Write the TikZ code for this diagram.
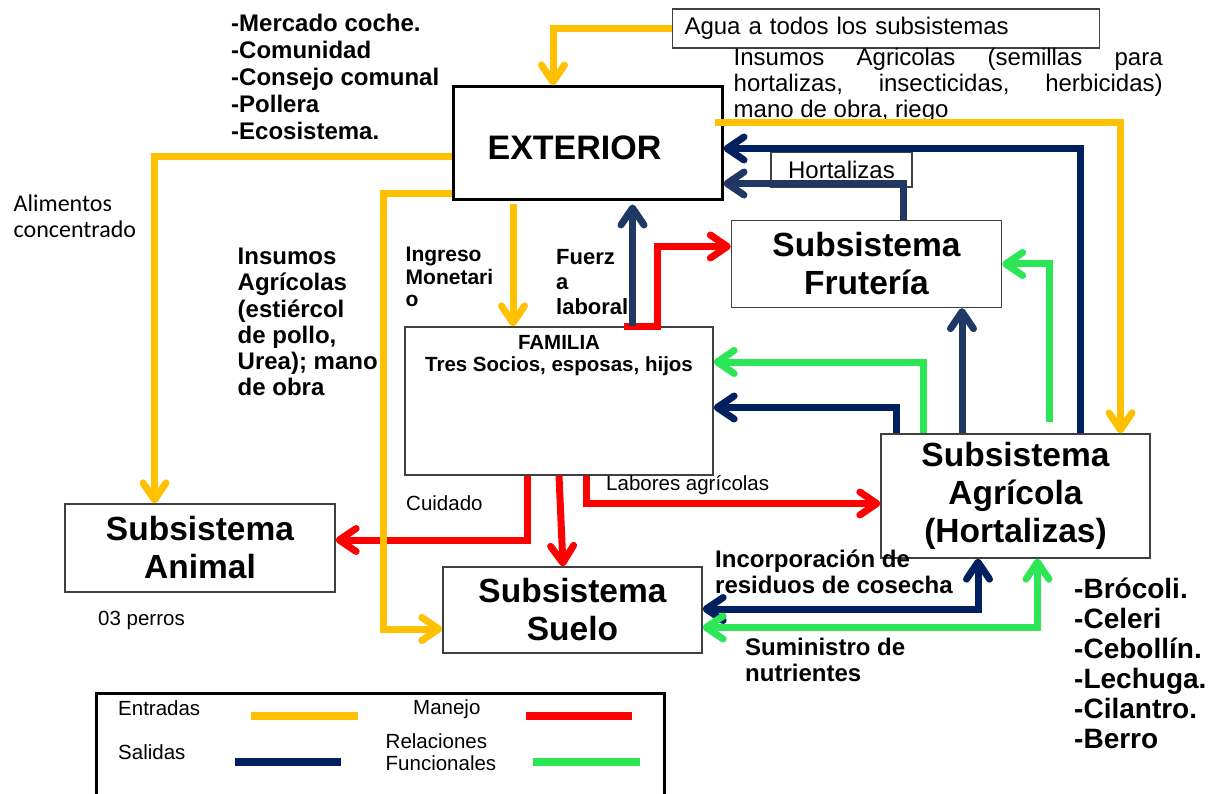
\documentclass[tikz,border=0pt]{standalone}
\usepackage{fontspec}
\setmainfont{Liberation Sans}
\newfontfamily\calibrifont{Carlito}
\usetikzlibrary{arrows.meta,positioning}
\newcommand{\setfs}[2]{\fontsize{#1}{#2}\selectfont}
\definecolor{amarillo}{HTML}{FFC000}
\definecolor{rojo}{HTML}{FF0000}
\definecolor{azul}{HTML}{002060}
\definecolor{azulclaro}{HTML}{1F3864}
\definecolor{verde}{HTML}{2DE655}
\tikzstyle{caja}=[draw=black!75,line width=1.3pt,inner sep=0pt,align=center,font=\bfseries\setfs{33.5}{38}]
\tikzstyle{texto}=[inner sep=0pt,anchor=north west,align=left]
\tikzstyle{flecha}=[-{Straight Barb[length=17pt,width=23pt,round]}]
\tikzstyle{dobleflecha}=[{Straight Barb[length=17pt,width=23pt,round]}-{Straight Barb[length=17pt,width=23pt,round]}]
\tikzstyle{entrada}=[draw=amarillo,line width=7pt]
\tikzstyle{salida}=[draw=azul,line width=7pt]
\tikzstyle{salidab}=[draw=azulclaro,line width=7pt]
\tikzstyle{manejo}=[draw=rojo,line width=7pt]
\tikzstyle{relacion}=[draw=verde,line width=7pt]

\begin{document}
\begin{tikzpicture}[x=1pt,y=-1pt]
    \useasboundingbox (0,0) rectangle (1212,794);
    % Draw the subsystems
    \node[caja,draw=black,line width=3pt,minimum width=269pt,minimum height=113pt] (ext) at (587.5,143.5) {};
    \node[font=\bfseries\setfs{34}{40},inner sep=0pt] (exttxt) at ([shift={(-13,4)}]ext.center) {EXTERIOR};
    \node[caja,minimum width=270pt,minimum height=87pt] (fru) at (866.5,264) {Subsistema\\Frutería};
    \node[caja,minimum width=308pt,minimum height=148pt] (fam) at (559,401) {};
    \node[caja,minimum width=269pt,minimum height=124pt] (agr) at (1015.5,496) {Subsistema\\Agrícola\\(Hortalizas)};
    \node[caja,minimum width=270pt,minimum height=88pt] (ani) at (200,548) {Subsistema\\Animal};
    \node[caja,minimum width=259pt,minimum height=86pt] (sue) at (572.5,610) {Subsistema\\Suelo};
    \node[caja,font=\setfs{24}{27},minimum width=427pt,minimum height=39pt,text width=403pt,align=left] (agua) at (886,28.5) {Agua a todos los subsistemas};
    \node[caja,font=\setfs{24}{27},minimum width=141pt,minimum height=35pt] (hort) at (841.5,169.5) {Hortalizas};
    \node[font=\bfseries\setfs{20.5}{22.7},align=center,inner sep=0pt,below=8.5pt of fam.north] (famtxt) {FAMILIA\\Tres Socios, esposas, hijos};

    % Then the free texts
    \node[texto,font=\bfseries\setfs{24}{27}] (merc) at (231,14) {-Mercado coche.\\-Comunidad\\-Consejo comunal\\-Pollera\\-Ecosistema.};
    \node[texto,font=\setfs{24}{26},text width=429pt,align=justify] (insb) at (733.5,48) {Insumos Agricolas (semillas para\linebreak hortalizas, insecticidas, herbicidas)\linebreak mano de obra, riego};
    \node[texto,font=\calibrifont\setfs{24}{26}] (alim) at (13.5,194.5) {Alimentos\\concentrado};
    \node[texto,font=\bfseries\setfs{24}{26.2}] (insa) at (237.5,248) {Insumos\\Agrícolas\\(estiércol\\de pollo,\\Urea); mano\\de obra};
    \node[texto,font=\bfseries\setfs{21}{22.5}] (ingr) at (405.5,247) {Ingreso\\Monetari\\o};
    \node[texto,font=\bfseries\setfs{22}{25.3}] (fuer) at (556,249) {Fuerz\\a\\laboral};
    \node[texto,font=\setfs{20.5}{24}] (cuid) at (406,495.5) {Cuidado};
    \node[texto,font=\setfs{20.5}{24}] (labo) at (606,475.5) {Labores agrícolas};
    \node[texto,font=\setfs{20.5}{24}] (perr) at (98,611) {03 perros};
    \node[texto,font=\bfseries\setfs{24}{26}] (inco) at (715,550) {Incorporación de\\residuos de cosecha};
    \node[texto,font=\bfseries\setfs{24}{26}] (sumi) at (745,638) {Suministro de\\nutrientes};
    \node[texto,font=\bfseries\setfs{28}{30}] (cult) at (1074,577.5) {-Brócoli.\\-Celeri\\-Cebollín.\\-Lechuga.\\-Cilantro.\\-Berro};

    % Manejo
    \draw[manejo,flecha] ([shift={(65,0)}]fam.north) -- ++(33,0) |- ([shift={(0,-17.5)}]fru.west);
    \draw[manejo,flecha] ([shift={(-32,0)}]fam.south) |- ([shift={(0,-8)}]ani.east);
    \draw[manejo,flecha] (fam.south) -- ([shift={(-9.5,0)}]sue.north);
    \draw[manejo,flecha] ([shift={(27,0)}]fam.south) |- ([shift={(0,7.5)}]agr.west);
    % Entradas
    \draw[entrada,flecha] (agua.west) -| ([shift={(-34.5,0)}]ext.north);
    \draw[entrada,flecha] ([shift={(-9,-20.5)}]ext.east) -| ([shift={(105,0)}]agr.north);
    \draw[entrada,flecha] ([shift={(0,13.5)}]ext.west) -| ([shift={(-45.5,0)}]ani.north);
    \draw[entrada,flecha] ([shift={(0,50.5)}]ext.west) -- ++(-68.5,0) |- ([shift={(0,19)}]sue.west);
    \draw[entrada,flecha] ([shift={(-74.5,3)}]ext.south) -- ([shift={(-46,0)}]fam.north);
    % Salidas
    \draw[salidab,flecha] ([shift={(73.5,0)}]fam.north) -- ([shift={(45,3)}]ext.south);
    \draw[salidab,flecha] ([shift={(36.5,0)}]fru.north) |- ([shift={(0,40)}]ext.east);
    \draw[salida,flecha] ([shift={(64.5,0)}]agr.north) |- ([shift={(0,5)}]ext.east);
    \draw[salidab,flecha] ([shift={(-53.5,0)}]agr.north) -- ([shift={(95.5,0)}]fru.south);
    \draw[salida,flecha] ([shift={(-119.5,0)}]agr.north) |- ([shift={(0,6.5)}]fam.east);
    \draw[salida,dobleflecha] ([shift={(-37.5,0)}]agr.south) |- ([shift={(0,-1)}]sue.east);
    % Relaciones funcionales
    \draw[relacion,flecha] ([shift={(33.5,-11)}]agr.north) |- (fru.east);
    \draw[relacion,flecha] ([shift={(-92.5,0)}]agr.north) |- ([shift={(0,-39)}]fam.east);
    \draw[relacion,dobleflecha] ([shift={(22,0)}]agr.south) |- ([shift={(0,17.5)}]sue.east);

    % Legend
    \node[draw,line width=3pt,minimum width=568pt,minimum height=140pt,inner sep=0pt,anchor=north west] (leg) at (94.5,692) {};
    \node[texto,font=\setfs{20.5}{22.3}] (entr) at (118,700) {Entradas};
    \node[texto,font=\setfs{20.5}{22.3}] (mane) at (413,699.5) {Manejo};
    \node[texto,font=\setfs{20.5}{22.3}] (sali) at (118,744.5) {Salidas};
    \node[texto,font=\setfs{20.5}{22.3}] (rela) at (385.5,733) {Relaciones\\Funcionales};
    \foreach \a/\b/\y/\estilo in {251/358/715.5/entrada, 526/632/715.5/manejo, 235/341/762/salida, 533/640/762/relacion}
        \draw[\estilo,line width=8pt] (\a,\y) -- (\b,\y);
\end{tikzpicture}
\end{document}
